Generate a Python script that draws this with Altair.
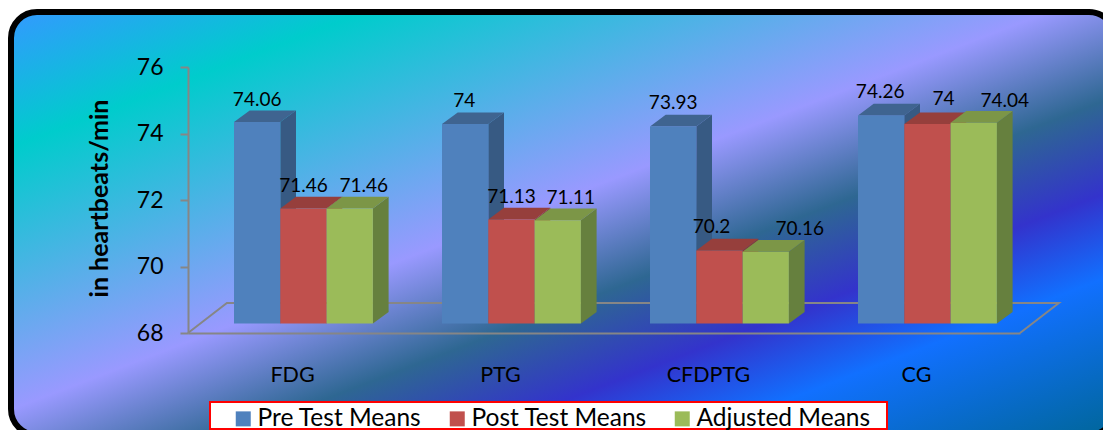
import altair as alt
import pandas as pd

# ---- values ----
CATEGORIES = ["FDG", "PTG", "CFDPTG", "CG"]
SERIES = ["Pre Test Means", "Post Test Means", "Adjusted Means"]
PRE = [74.06, 74, 73.93, 74.26]
POST = [71.46, 71.13, 70.2, 74]
ADJ = [71.46, 71.11, 70.16, 74.04]
Y_TICKS = [68, 70, 72, 74, 76]
AXIS_TITLE = "in heartbeats/min"

FRONT = ["#4F81BD", "#C0504D", "#9BBB59"]
TOP = ["#3F6490", "#963F3C", "#7C9647"]
SIDE = ["#375A83", "#873936", "#66803E"]
GRID = "#868686"
FONT = "Lato"

# label placement in the original is hand-nudged (pixels from the default spot)
NUDGE_X = [[0, 0, 14], [-1, 0, 13], [0, -8, 34], [-1, 16, 31]]
NUDGE_Y = [[22, 23, 23], [23, 23, 22], [23, 23, 23], [23, 25, 22]]

# ---- geometry of the pseudo-3D drawing, in data units ----
PX_X = 208.0      # px per category
PX_Y = 33.25      # px per y unit
BAR_START = 46.0 / PX_X
BAR_W = 46.3 / PX_X
LIFT = 0.283      # front faces stand on the floor, slightly above the axis base
DX = 15.7 / PX_X  # depth of the bars
DY = 11.7 / PX_Y
FLOOR_DX = 38.9 / PX_X
FLOOR_DY = 30.0 / PX_Y

VALUES = [PRE, POST, ADJ]
front, side, top, labels = [], [], [], []
for s, name in enumerate(SERIES):
    for c, cat in enumerate(CATEGORIES):
        v = VALUES[s][c]
        x0 = c + BAR_START + s * BAR_W
        x1 = x0 + BAR_W
        base = 68 + LIFT
        t = v + LIFT
        key = f"{s}-{c}"
        front.append(dict(series=name, s=s, x0=x0, x1=x1, base=base, top=t))
        side += [
            dict(s=s, key=key, x=x1, lo=base, hi=t),
            dict(s=s, key=key, x=x1 + DX, lo=base + DY, hi=t + DY),
        ]
        top += [
            dict(s=s, key=key, y=t, a=x0, b=x1),
            dict(s=s, key=key, y=t + DY, a=x0 + DX, b=x1 + DX),
        ]
        labels.append(dict(
            text=f"{v:g}",
            x=(x0 + x1) / 2 + NUDGE_X[c][s] / PX_X,
            y=t + NUDGE_Y[c][s] / PX_Y,
        ))
front = pd.DataFrame(front)
side = pd.DataFrame(side)
top = pd.DataFrame(top)
labels = pd.DataFrame(labels)
floor = pd.DataFrame([
    dict(o=0, x=0, y=68),
    dict(o=1, x=FLOOR_DX, y=68 + FLOOR_DY),
    dict(o=2, x=4 + FLOOR_DX, y=68 + FLOOR_DY),
    dict(o=3, x=4, y=68),
])
blank = pd.DataFrame([{"k": 0}])

XS = alt.Scale(domain=[0, 4], nice=False, zero=False)
YS = alt.Scale(domain=[68, 76], nice=False, zero=False)
label_expr = "[" + ",".join(f"'{c}'" for c in CATEGORIES) + "][floor(datum.value)]"

X_AXIS = alt.Axis(
    values=[0.5, 1.5, 2.5, 3.5], labelExpr=label_expr, ticks=False, grid=False,
    domain=True, domainColor=GRID, domainWidth=2, labelFont=FONT, labelFontSize=21.5,
    labelColor="black", labelPadding=31, labelAngle=0, zindex=1,
)
Y_AXIS = alt.Axis(
    values=Y_TICKS, grid=False, domainColor=GRID, domainWidth=2, tickColor=GRID,
    tickWidth=2, tickSize=8, labelFont=FONT, labelFontSize=23, labelColor="black",
    labelPadding=17, titleFont=FONT, titleFontSize=25, titleFontWeight="bold",
    titleColor="black", titleX=-76, titleY=131, format="d", zindex=1,
)


def X(field):
    return alt.X(field, scale=XS, axis=X_AXIS, title=None)


def Y(field):
    return alt.Y(field, scale=YS, axis=Y_AXIS, title=AXIS_TITLE)


ocean = alt.Gradient(
    gradient="linear",
    x1=0, y1=0, x2=1, y2=1,
    stops=[
        alt.GradientStop(color="#3399FF", offset=0),
        alt.GradientStop(color="#00CCCC", offset=0.16),
        alt.GradientStop(color="#9999FF", offset=0.47),
        alt.GradientStop(color="#2E6792", offset=0.60),
        alt.GradientStop(color="#3333CC", offset=0.71),
        alt.GradientStop(color="#1170FF", offset=0.81),
        alt.GradientStop(color="#006699", offset=1),
    ],
)

panel = alt.Chart(blank).mark_rect(
    fill=ocean, stroke="black", strokeWidth=6, cornerRadius=26
).encode(x=alt.value(-177), x2=alt.value(927), y=alt.value(-55), y2=alt.value(368))

axes = alt.Chart(floor).mark_line(color=GRID, strokeWidth=2).encode(
    x=X("x:Q"), y=Y("y:Q"), order="o:Q",
)

faces = []
for s, name in enumerate(SERIES):
    sd = side[side.s == s]
    td = top[top.s == s]
    fd = front[front.s == s]
    faces.append(alt.Chart(sd).mark_area(color=SIDE[s], orient="vertical").encode(
        x=X("x:Q"), y=Y("lo:Q"), y2="hi:Q", detail="key:N",
    ))
    faces.append(alt.Chart(td).mark_area(color=TOP[s], orient="horizontal").encode(
        y=Y("y:Q"), x=X("a:Q"), x2="b:Q", detail="key:N",
    ))
    faces.append(alt.Chart(fd).mark_bar().encode(
        x=X("x0:Q"), x2="x1:Q", y=Y("base:Q"), y2="top:Q",
        color=alt.Color(
            "series:N",
            scale=alt.Scale(domain=SERIES, range=FRONT),
            legend=alt.Legend(
                title=None, orient="none", legendX=43, legendY=339.5, direction="horizontal",
                columns=3, symbolType="square", symbolSize=225, symbolStrokeWidth=0,
                symbolOpacity=1, labelFont=FONT, labelFontSize=24.5, labelColor="black",
                labelOffset=2, columnPadding=23, padding=0, zindex=1, labelLimit=400,
            ),
        ),
    ))

legend_box = alt.Chart(blank).mark_rect(fill="white", stroke="#FF0000", strokeWidth=2).encode(
    x=alt.value(22), x2=alt.value(699), y=alt.value(335), y2=alt.value(362)
)

text = alt.Chart(labels).mark_text(
    font=FONT, fontSize=19, color="black", baseline="middle", align="center"
).encode(x=X("x:Q"), y=Y("y:Q"), text="text:N")

chart = alt.layer(panel, axes, *faces, legend_box, text).properties(
    width=832,
    height=266,
    padding={"left": 180, "top": 59, "right": 83, "bottom": 97},
    autosize=alt.AutoSizeParams(type="none"),
    background="white",
).configure_view(stroke=None)

chart.save("out.html", embed_options={"renderer": "svg", "actions": False})
